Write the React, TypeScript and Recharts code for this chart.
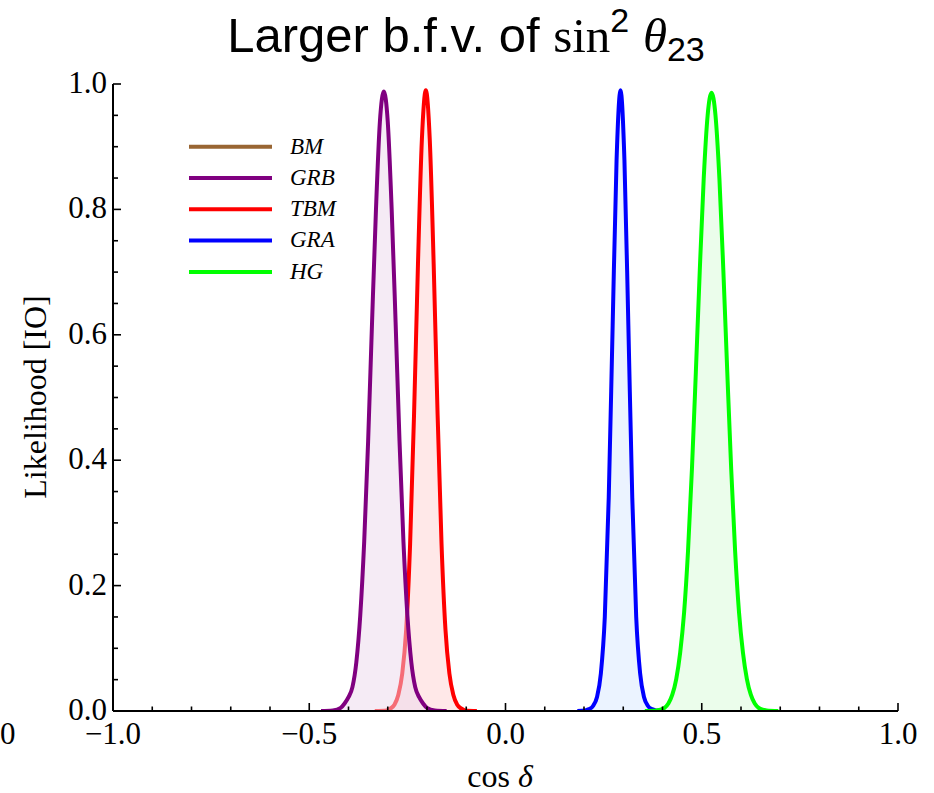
import React from 'react';
import { ComposedChart, Area, XAxis, YAxis } from 'recharts';

// likelihood curves (x = cos δ)
const grbX = [-0.47, -0.44, -0.42, -0.41, -0.4, -0.39, -0.38, -0.37, -0.36, -0.35, -0.34, -0.33, -0.32, -0.31, -0.3, -0.29, -0.28, -0.27, -0.26, -0.25, -0.24, -0.23, -0.22, -0.21, -0.2, -0.18, -0.15];
const grbY = [0, 0.001, 0.005, 0.012, 0.022, 0.038, 0.078, 0.153, 0.27, 0.43, 0.62, 0.8, 0.94, 0.988, 0.94, 0.8, 0.62, 0.43, 0.27, 0.153, 0.078, 0.038, 0.022, 0.012, 0.005, 0.001, 0];

const tbmX = [-0.333, -0.303, -0.293, -0.283, -0.273, -0.263, -0.253, -0.243, -0.233, -0.223, -0.213, -0.203, -0.193, -0.183, -0.173, -0.163, -0.153, -0.143, -0.133, -0.123, -0.113, -0.103, -0.073];
const tbmY = [0, 0.001, 0.004, 0.01, 0.026, 0.06, 0.13, 0.267, 0.473, 0.713, 0.912, 0.99, 0.912, 0.713, 0.473, 0.267, 0.13, 0.06, 0.026, 0.01, 0.004, 0.001, 0];

const graX = [0.183, 0.203, 0.213, 0.223, 0.233, 0.243, 0.253, 0.263, 0.273, 0.283, 0.293, 0.303, 0.313, 0.323, 0.333, 0.343, 0.353, 0.363, 0.373, 0.383, 0.403];
const graY = [0, 0.001, 0.003, 0.008, 0.022, 0.06, 0.15, 0.34, 0.615, 0.879, 0.99, 0.879, 0.615, 0.34, 0.15, 0.06, 0.022, 0.008, 0.003, 0.001, 0];

const hgX = [0.355, 0.385, 0.395, 0.405, 0.415, 0.425, 0.435, 0.445, 0.455, 0.465, 0.475, 0.485, 0.495, 0.505, 0.515, 0.525, 0.535, 0.545, 0.555, 0.565, 0.575, 0.585, 0.595, 0.605, 0.615, 0.625, 0.635, 0.645, 0.655, 0.665, 0.695];
const hgY = [0, 0.001, 0.002, 0.005, 0.012, 0.026, 0.051, 0.093, 0.157, 0.255, 0.386, 0.541, 0.703, 0.849, 0.95, 0.986, 0.95, 0.849, 0.703, 0.541, 0.386, 0.255, 0.157, 0.093, 0.051, 0.026, 0.012, 0.005, 0.002, 0.001, 0];

const legendNames = ['BM', 'GRB', 'TBM', 'GRA', 'HG'];
const legendColors = ['#996633', '#800080', '#ff0000', '#0000ff', '#00ff00'];

const xTicks = [-1, -0.9, -0.8, -0.7, -0.6, -0.5, -0.4, -0.3, -0.2, -0.1, 0, 0.1, 0.2, 0.3, 0.4, 0.5, 0.6, 0.7, 0.8, 0.9, 1];
const xMajor = [-1, -0.5, 0, 0.5, 1];
const yTicks = [0, 0.05, 0.1, 0.15, 0.2, 0.25, 0.3, 0.35, 0.4, 0.45, 0.5, 0.55, 0.6, 0.65, 0.7, 0.75, 0.8, 0.85, 0.9, 0.95, 1];
const yMajor = [0, 0.2, 0.4, 0.6, 0.8, 1];

// drawing order matters: the purple fill goes over the red line
const series = [
  { key: 'TBM', xs: tbmX, ys: tbmY, stroke: '#ff0000', fill: '#ffe8e8', fillOpacity: 1 },
  { key: 'GRB', xs: grbX, ys: grbY, stroke: '#800080', fill: 'rgb(235,215,235)', fillOpacity: 0.5 },
  { key: 'GRA', xs: graX, ys: graY, stroke: '#0000ff', fill: '#ebf3ff', fillOpacity: 1 },
  { key: 'HG', xs: hgX, ys: hgY, stroke: '#00ff00', fill: '#ebfdeb', fillOpacity: 1 },
];

const allX = Array.from(new Set(series.flatMap((s) => s.xs))).sort((a, b) => a - b);
const data = allX.map((x) => {
  const row: Record<string, number> = { x };
  series.forEach((s) => {
    const i = s.xs.indexOf(x);
    if (i >= 0) row[s.key] = s.ys[i];
  });
  return row;
});

const serif = '"Liberation Serif", "Times New Roman", serif';
const sans = '"Liberation Sans", Arial, sans-serif';

const fmt = (v: number) => v.toFixed(1).replace('-', '\u2212');
const isMajor = (v: number, majors: number[]) => majors.some((m) => Math.abs(m - v) < 1e-9);

const XTick = (props: any) => {
  const { x, y, payload } = props;
  const major = isMajor(payload.value, xMajor);
  return (
    <g>
      <line x1={x} x2={x} y1={y} y2={y - (major ? 8 : 4.5)} stroke="#000" strokeWidth={1.6} />
      {major && (
        <text x={x} y={y + 33} textAnchor="middle" fontFamily={serif} fontSize={31} fill="#000">
          {fmt(payload.value)}
        </text>
      )}
    </g>
  );
};

const YTick = (props: any) => {
  const { x, y, payload } = props;
  const major = isMajor(payload.value, yMajor);
  return (
    <g>
      <line x1={x} x2={x + (major ? 8 : 5)} y1={y} y2={y} stroke="#000" strokeWidth={1.6} />
      {major && (
        <text x={x - 6} y={y + 9} textAnchor="end" fontFamily={serif} fontSize={31} fill="#000">
          {fmt(payload.value)}
        </text>
      )}
    </g>
  );
};

export default function App() {
  return (
    <div style={{ position: 'absolute', left: 0, top: 0, width: 934, height: 793, background: '#fff' }}>
      <ComposedChart
        width={934}
        height={793}
        data={data}
        margin={{ top: 84, right: 36, bottom: 42, left: 53 }}
      >
        <XAxis
          dataKey="x"
          type="number"
          domain={[-1, 1]}
          ticks={xTicks}
          interval={0}
          tick={<XTick />}
          tickLine={false}
          tickSize={0}
          tickMargin={0}
          height={40}
          axisLine={{ stroke: '#000', strokeWidth: 2 }}
          allowDataOverflow
        />
        <XAxis
          xAxisId="top"
          orientation="top"
          type="number"
          domain={[-1, 1]}
          tick={false}
          tickLine={false}
          height={0}
          axisLine={{ stroke: '#000', strokeWidth: 2 }}
        />
        <YAxis
          type="number"
          domain={[0, 1]}
          ticks={yTicks}
          interval={0}
          tick={<YTick />}
          tickLine={false}
          tickSize={0}
          tickMargin={0}
          width={60}
          axisLine={{ stroke: '#000', strokeWidth: 2 }}
          allowDataOverflow
        />
        <YAxis
          yAxisId="right"
          orientation="right"
          type="number"
          domain={[0, 1]}
          tick={false}
          tickLine={false}
          width={0}
          axisLine={{ stroke: '#000', strokeWidth: 2 }}
        />
        {series.map((s) => (
          <Area
            key={s.key}
            dataKey={s.key}
            type="monotone"
            connectNulls
            stroke={s.stroke}
            strokeWidth={4}
            fill={s.fill}
            fillOpacity={s.fillOpacity}
            isAnimationActive={false}
            dot={false}
            activeDot={false}
          />
        ))}
      </ComposedChart>

      <svg
        width={934}
        height={793}
        style={{ position: 'absolute', left: 0, top: 0, pointerEvents: 'none' }}
      >
        <text x={466} y={52} textAnchor="middle" fontFamily={sans} fontSize={49} fill="#000">
          <tspan>Larger b.f.v. of{'\u00a0'}</tspan>
          <tspan fontFamily={serif}>sin</tspan>
          <tspan fontSize={34} dy={-20}>2</tspan>
          <tspan dy={20}>{'\u00a0'}</tspan>
          <tspan fontFamily={serif} fontStyle="italic">θ</tspan>
          <tspan fontSize={34} dy={9}>23</tspan>
        </text>

        {legendNames.map((name, i) => (
          <g key={name}>
            <line x1={189} x2={272} y1={146.7 + i * 31.3} y2={146.7 + i * 31.3} stroke={legendColors[i]} strokeWidth={4} />
            <text x={290} y={153.5 + i * 31.3} fontFamily={serif} fontStyle="italic" fontSize={23} fill="#000">
              {name}
            </text>
          </g>
        ))}

        <text x={0} y={744} fontFamily={serif} fontSize={31} fill="#000">0</text>
        <text x={500} y={787} textAnchor="middle" fontFamily={serif} fontSize={32} fill="#000">
          cos{'\u00a0'}<tspan fontStyle="italic">δ</tspan>
        </text>
        <text
          x={0}
          y={0}
          transform="translate(46 397) rotate(-90)"
          textAnchor="middle"
          fontFamily={serif}
          fontSize={32}
          fill="#000"
        >
          Likelihood [IO]
        </text>
      </svg>
    </div>
  );
}
